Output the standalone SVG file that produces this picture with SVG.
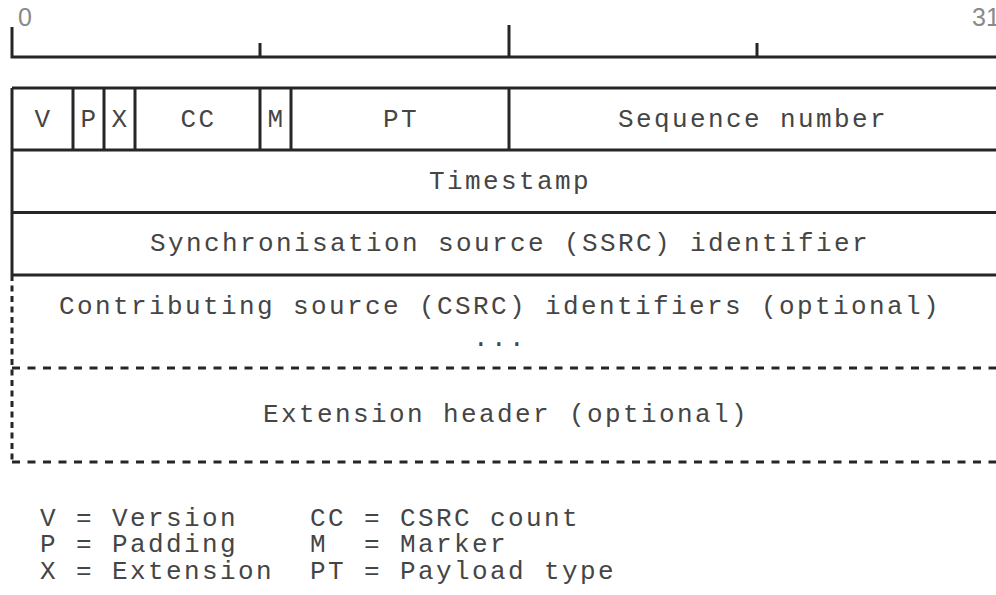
<svg xmlns="http://www.w3.org/2000/svg" width="996" height="595" viewBox="0 0 996 595">
<style>
.ln{stroke:#262626;stroke-width:3;fill:none}
.dh{stroke:#262626;stroke-width:3;fill:none;stroke-dasharray:8 7.5}
.dv{stroke:#262626;stroke-width:3;fill:none;stroke-dasharray:6 4.5}
.t{font-family:"Liberation Mono","Courier New",monospace;font-size:26px;letter-spacing:2.4px;fill:#454545;text-anchor:middle;white-space:pre}
.l{font-family:"Liberation Mono","Courier New",monospace;font-size:26px;letter-spacing:2.4px;fill:#454545;white-space:pre}
.n{font-family:"Liberation Sans",Arial,sans-serif;font-size:25px;fill:#8a8a8a}
</style>
<rect width="996" height="595" fill="#fff"/>
<g id="ruler">
<path class="ln" d="M12 27V57H1000M260 43V57M509 25V57M757 43V57"/>
<text class="n" x="18" y="26">0</text>
<text class="n" x="972" y="26">31</text>
</g>
<g id="connectors">
<path class="ln" d="M12 88H1000M12 150H1000M12 212.5H1000M12 275H1000M12 88V275"/>
<path class="ln" d="M73 88V150M104 88V150M135 88V150M260 88V150M291 88V150M509 88V150"/>
<path class="dv" d="M12 275V462"/>
<path class="dh" d="M12 368H1000M12 462H1000"/>
</g>
<g id="row1">
<text class="t" x="43.5" y="127">V</text>
<text class="t" x="89.5" y="127">P</text>
<text class="t" x="120.5" y="127">X</text>
<text class="t" x="198.5" y="127">CC</text>
<text class="t" x="276.5" y="127">M</text>
<text class="t" x="401" y="127">PT</text>
<text class="t" x="753" y="127">Sequence number</text>
</g>
<g id="timestamp"><text class="t" x="510" y="189">Timestamp</text></g>
<g id="ssrc"><text class="t" x="510" y="251">Synchronisation source (SSRC) identifier</text></g>
<g id="csrc">
<text class="t" x="500" y="314">Contributing source (CSRC) identifiers (optional)</text>
<text class="t" x="500" y="346">...</text>
</g>
<g id="extension"><text class="t" x="506" y="422">Extension header (optional)</text></g>
<g id="legend">
<text class="l" x="40" y="526">V = Version</text>
<text class="l" x="40" y="552">P = Padding</text>
<text class="l" x="40" y="579">X = Extension</text>
<text class="l" x="310" y="526">CC = CSRC count</text>
<text class="l" x="310" y="552">M  = Marker</text>
<text class="l" x="310" y="579">PT = Payload type</text>
</g>
</svg>
